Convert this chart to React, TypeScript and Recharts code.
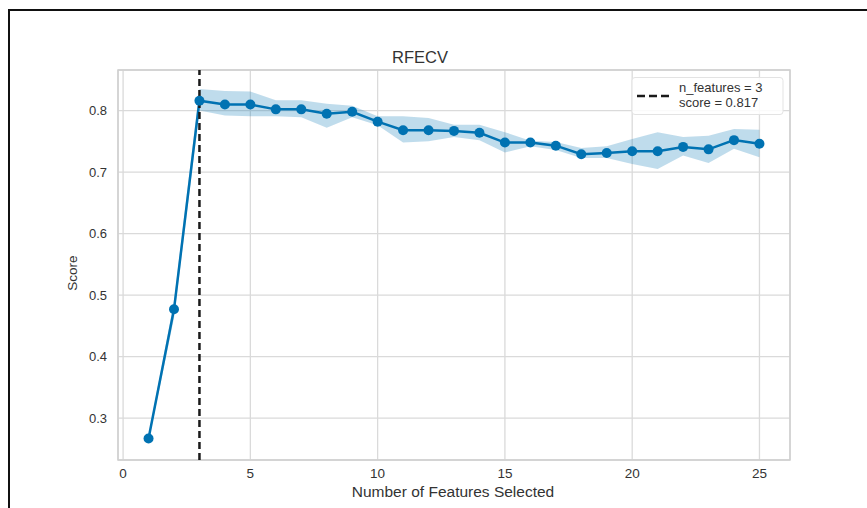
import React from "react";
import {
  ComposedChart,
  Line,
  Area,
  XAxis,
  YAxis,
  CartesianGrid,
  ReferenceLine,
  ReferenceArea,
} from "recharts";

const features = [1, 2, 3, 4, 5, 6, 7, 8, 9, 10, 11, 12, 13, 14, 15, 16, 17, 18, 19, 20, 21, 22, 23, 24, 25];
const scores = [0.267, 0.477, 0.816, 0.81, 0.81, 0.802, 0.802, 0.795, 0.798, 0.782, 0.768, 0.768, 0.767, 0.764, 0.748, 0.748, 0.743, 0.729, 0.731, 0.734, 0.734, 0.741, 0.737, 0.752, 0.746];
const bandLow = [0.262, 0.463, 0.8, 0.792, 0.791, 0.791, 0.789, 0.772, 0.789, 0.776, 0.748, 0.75, 0.757, 0.752, 0.732, 0.742, 0.736, 0.723, 0.723, 0.713, 0.705, 0.727, 0.715, 0.738, 0.724];
const bandHigh = [0.272, 0.49, 0.835, 0.832, 0.831, 0.817, 0.817, 0.811, 0.808, 0.791, 0.791, 0.788, 0.777, 0.777, 0.765, 0.751, 0.749, 0.739, 0.742, 0.754, 0.765, 0.757, 0.759, 0.77, 0.769];
const xTicks = [0, 5, 10, 15, 20, 25];
const yTicks = [0.3, 0.4, 0.5, 0.6, 0.7, 0.8];
const bestFeatures = 3;
const bestScore = 0.817;

const data = features.map((f, i) => ({
  n: f,
  score: scores[i],
  band: [bandLow[i], bandHigh[i]],
}));

const FONT = "'Liberation Sans', Arial, sans-serif";
const BLUE = "#0072B2";

export default function App() {
  return (
    <div
      style={{
        position: "absolute",
        left: 0,
        top: 0,
        width: 867,
        height: 508,
        background: "#fff",
        overflow: "hidden",
        fontFamily: FONT,
      }}
    >
      <div
        style={{
          position: "absolute",
          left: 8,
          top: 9,
          right: -10,
          bottom: -10,
          borderTop: "2px solid #111",
          borderLeft: "2px solid #111",
        }}
      />
      <ComposedChart
        width={867}
        height={508}
        data={data}
        margin={{ top: 70, right: 77, left: 58, bottom: 8 }}
        style={{ position: "absolute", left: 0, top: 0 }}
      >
        <CartesianGrid stroke="#dadada" strokeWidth={1.3} fill="#fff" />
        <ReferenceArea
          x1={-0.2}
          x2={26.2}
          y1={0.232}
          y2={0.866}
          fill="none"
          stroke="#d0d0d0"
          strokeWidth={1.5}
          ifOverflow="extendDomain"
        />
        <XAxis
          dataKey="n"
          type="number"
          domain={[-0.2, 26.2]}
          ticks={xTicks}
          height={40}
          axisLine={false}
          tickLine={false}
          tickSize={0}
          tickMargin={8}
          tick={{ fill: "#333", fontSize: 13.5, fontFamily: FONT }}
          allowDataOverflow
        />
        <YAxis
          type="number"
          domain={[0.232, 0.866]}
          ticks={yTicks}
          width={60}
          axisLine={false}
          tickLine={false}
          tickSize={0}
          tickMargin={11}
          tick={{ fill: "#333", fontSize: 13, fontFamily: FONT }}
          tickFormatter={(v: number) => v.toFixed(1)}
          allowDataOverflow
        />
        <Area
          dataKey="band"
          type="linear"
          stroke="none"
          fill={BLUE}
          fillOpacity={0.25}
          isAnimationActive={false}
          activeDot={false}
        />
        <Line
          dataKey="score"
          type="linear"
          stroke={BLUE}
          strokeWidth={2.5}
          dot={{ r: 5, fill: BLUE, stroke: "none" }}
          activeDot={false}
          isAnimationActive={false}
        />
        <ReferenceLine
          x={bestFeatures}
          stroke="#1a1a1a"
          strokeWidth={2.5}
          strokeDasharray="7 4"
        />
      </ComposedChart>
      <svg
        width={867}
        height={508}
        style={{ position: "absolute", left: 0, top: 0, pointerEvents: "none" }}
      >
        <text x={420} y={63} textAnchor="middle" fontSize={16.5} fill="#333" fontFamily={FONT}>
          RFECV
        </text>
        <text x={453} y={497} textAnchor="middle" fontSize={15.5} fill="#333" fontFamily={FONT}>
          Number of Features Selected
        </text>
        <text
          x={0}
          y={0}
          transform="translate(77,273) rotate(-90)"
          textAnchor="middle"
          fontSize={13.5}
          fill="#333"
          fontFamily={FONT}
        >
          Score
        </text>
        <rect x={632} y={77.5} width={151} height={37} rx={3} fill="#fff" fillOpacity={0.85} stroke="#e3e3e3" />
        <line x1={637} x2={669} y1={96} y2={96} stroke="#1a1a1a" strokeWidth={2.5} strokeDasharray="8 4" />
        <text x={679} y={92} fontSize={13} fill="#333" fontFamily={FONT}>
          {`n_features = ${bestFeatures}`}
        </text>
        <text x={679} y={107} fontSize={13} fill="#333" fontFamily={FONT}>
          {`score = ${bestScore.toFixed(3)}`}
        </text>
      </svg>
    </div>
  );
}
